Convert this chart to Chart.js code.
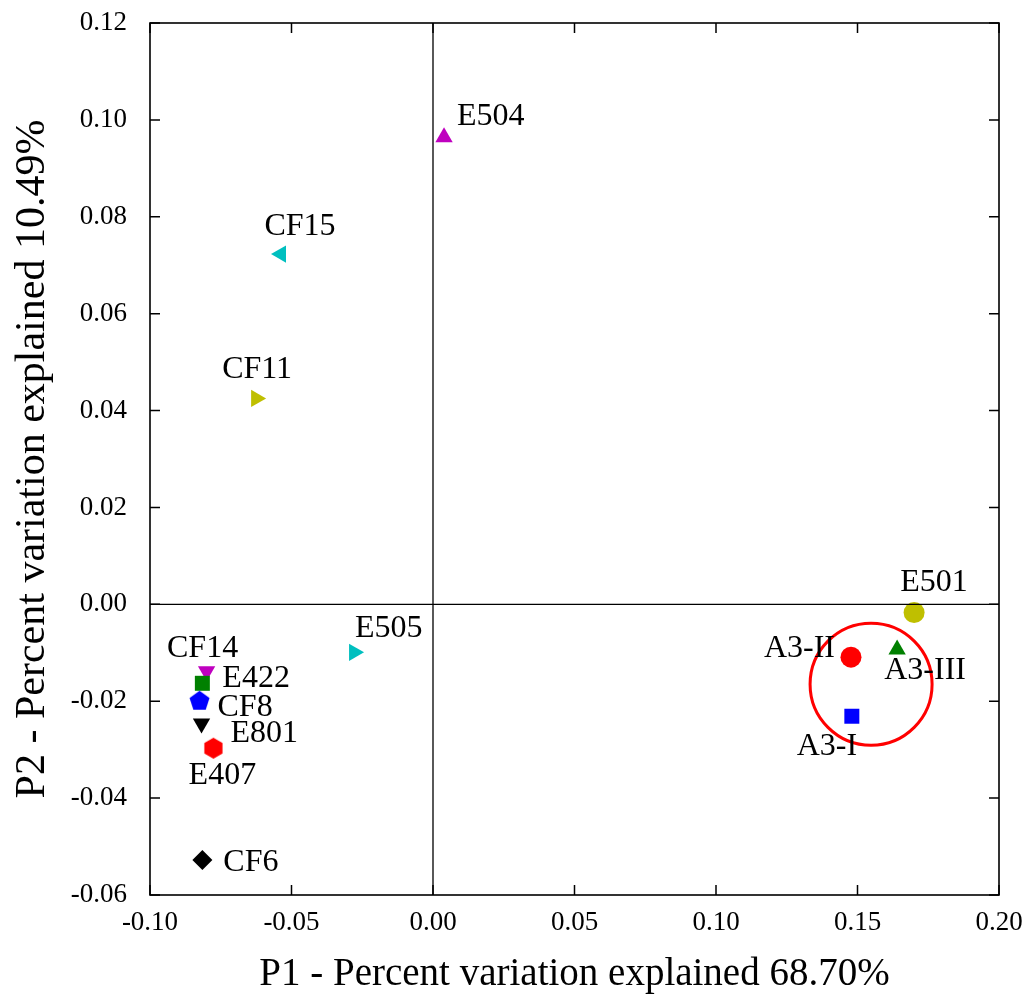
<!DOCTYPE html>
<html>
<head>
<meta charset="utf-8">
<script src="https://cdn.jsdelivr.net/npm/chart.js@4"></script>
<style>
  html, body { margin: 0; padding: 0; background: #fff; }
  #wrap { width: 1023px; height: 994px; }
</style>
</head>
<body>
<div id="wrap"><canvas id="chart"></canvas></div>
<script>
// sample names and PCA scores
var names = ["E504", "CF15", "CF11", "E505", "CF14", "E422", "CF8", "E801", "E407", "CF6", "E501", "A3-II", "A3-III", "A3-I"];
var p1 = [0.0039, -0.0537, -0.0625, -0.0279, -0.0800, -0.0815, -0.0825, -0.0818, -0.0776, -0.0815, 0.1700, 0.1477, 0.1640, 0.1480];
var p2 = [0.0964, 0.0723, 0.0425, -0.0099, -0.0138, -0.0163, -0.0200, -0.0246, -0.0297, -0.0528, -0.0017, -0.0109, -0.0093, -0.0231];

// group circle (A3 cluster)
var groupCenter = [0.1548, -0.0165];

var xTicks = [-0.10, -0.05, 0.00, 0.05, 0.10, 0.15, 0.20];
var yTicks = [-0.06, -0.04, -0.02, 0.00, 0.02, 0.04, 0.06, 0.08, 0.10, 0.12];

var xTitle = "P1 - Percent variation explained 68.70%";
var yTitle = "P2 - Percent variation explained 10.49%";

// marker style per sample
var colors = ["#bf00bf", "#00bfbf", "#bfbf00", "#00bfbf", "#bf00bf", "#008000", "#0000ff", "#000000", "#ff0000", "#000000", "#bfbf00", "#ff0000", "#008000", "#0000ff"];
var shapes = ["up", "left", "right", "right", "down", "square", "pentagon", "down", "hexagon", "diamond", "circle", "circle", "up", "square"];

// label placement: [align, dx, dy]
var labelPlace = [
  ["left", 13, -21], ["center", 19, -27], ["center", 1, -29], ["left", 1, -24],
  ["center", -4, -23], ["left", 20, -5], ["left", 18, 6], ["left", 29, 10],
  ["center", 9, 27], ["left", 21, 2], ["center", 20, -30], ["right", -16, -9],
  ["center", 28, 21], ["center", -25, 30]
];

const FONT = "'Liberation Serif', 'Times New Roman', serif";

function polyCanvas(n, r, color, startAngle) {
  const s = Math.ceil(r * 2 + 2);
  const c = document.createElement("canvas");
  c.width = s; c.height = s;
  const g = c.getContext("2d");
  g.fillStyle = color;
  g.beginPath();
  for (let i = 0; i < n; i++) {
    const a = startAngle + i * 2 * Math.PI / n;
    const px = s / 2 + r * Math.sin(a);
    const py = s / 2 - r * Math.cos(a);
    if (i === 0) g.moveTo(px, py); else g.lineTo(px, py);
  }
  g.closePath();
  g.fill();
  return c;
}

function styleFor(shape, color) {
  switch (shape) {
    case "up": return { style: "triangle", rot: 0, r: 10 };
    case "down": return { style: "triangle", rot: 180, r: 10 };
    case "left": return { style: "triangle", rot: 270, r: 10 };
    case "right": return { style: "triangle", rot: 90, r: 10 };
    case "square": return { style: "rect", rot: 0, r: 10.6 };
    case "diamond": return { style: "rectRot", rot: 0, r: 10 };
    case "circle": return { style: "circle", rot: 0, r: 10.5 };
    case "pentagon": return { style: polyCanvas(5, 10.5, color, 0), rot: 0, r: 10 };
    case "hexagon": return { style: polyCanvas(6, 10.5, color, 0), rot: 0, r: 10 };
  }
}

const markers = shapes.map((s, i) => styleFor(s, colors[i]));
const points = p1.map((x, i) => ({ x: x, y: p2[i] }));

const frameAndLabels = {
  id: "frameAndLabels",
  afterDatasetsDraw(chart) {
    const { ctx, chartArea: a, scales } = chart;
    const xs = scales.x, ys = scales.y;
    ctx.save();
    ctx.strokeStyle = "#000";
    ctx.lineWidth = 1.3;
    // zero lines
    const x0 = xs.getPixelForValue(0), y0 = ys.getPixelForValue(0);
    ctx.beginPath();
    ctx.moveTo(x0, a.top); ctx.lineTo(x0, a.bottom);
    ctx.moveTo(a.left, y0); ctx.lineTo(a.right, y0);
    ctx.stroke();
    // inward ticks on all sides
    ctx.lineWidth = 1.5;
    ctx.beginPath();
    xTicks.forEach(v => {
      const px = xs.getPixelForValue(v);
      ctx.moveTo(px, a.bottom); ctx.lineTo(px, a.bottom - 10);
      ctx.moveTo(px, a.top); ctx.lineTo(px, a.top + 10);
    });
    yTicks.forEach(v => {
      const py = ys.getPixelForValue(v);
      ctx.moveTo(a.left, py); ctx.lineTo(a.left + 10, py);
      ctx.moveTo(a.right, py); ctx.lineTo(a.right - 10, py);
    });
    ctx.stroke();
    ctx.lineWidth = 1.6;
    ctx.strokeRect(a.left, a.top, a.right - a.left, a.bottom - a.top);
    // sample labels
    ctx.fillStyle = "#000";
    ctx.font = "32px " + FONT;
    ctx.textBaseline = "middle";
    names.forEach((n, i) => {
      const lp = labelPlace[i];
      ctx.textAlign = lp[0];
      ctx.fillText(n, xs.getPixelForValue(p1[i]) + lp[1], ys.getPixelForValue(p2[i]) + lp[2]);
    });
    ctx.restore();
  }
};

function noEdgePadding(s) {
  s.paddingTop = 0; s.paddingBottom = 0;
  s.paddingLeft = 0; s.paddingRight = 0;
}

new Chart(document.getElementById("chart"), {
  type: "scatter",
  data: {
    datasets: [
      {
        label: "samples",
        data: points,
        pointStyle: markers.map(m => m.style),
        rotation: markers.map(m => m.rot),
        pointRadius: markers.map(m => m.r),
        pointHoverRadius: markers.map(m => m.r),
        pointBackgroundColor: colors,
        pointBorderColor: colors,
        pointBorderWidth: 0
      },
      {
        label: "group",
        data: [{ x: groupCenter[0], y: groupCenter[1] }],
        pointStyle: "circle",
        pointRadius: 61,
        pointBackgroundColor: "rgba(0,0,0,0)",
        pointBorderColor: "#ff0000",
        pointBorderWidth: 3
      }
    ]
  },
  options: {
    responsive: true,
    maintainAspectRatio: false,
    animation: false,
    events: [],
    layout: { autoPadding: false, padding: { top: 23, right: 24, left: 0, bottom: 0 } },
    plugins: {
      legend: { display: false },
      tooltip: { enabled: false }
    },
    scales: {
      x: {
        type: "linear",
        min: xTicks[0],
        max: xTicks[xTicks.length - 1],
        afterBuildTicks: s => { s.ticks = xTicks.map(v => ({ value: v })); },
        afterFit: s => { s.height = 99; noEdgePadding(s); },
        grid: { display: false },
        border: { display: false },
        ticks: {
          autoSkip: false,
          maxRotation: 0,
          padding: 4,
          color: "#000",
          font: { family: FONT, size: 27 },
          callback: v => (Math.abs(v) < 1e-9 ? 0 : v).toFixed(2)
        },
        title: {
          display: true,
          text: xTitle,
          color: "#000",
          font: { family: FONT, size: 39, lineHeight: 1 },
          padding: { top: 0, bottom: 0 }
        }
      },
      y: {
        type: "linear",
        min: yTicks[0],
        max: yTicks[yTicks.length - 1],
        afterBuildTicks: s => { s.ticks = yTicks.map(v => ({ value: v })); },
        afterFit: s => { s.width = 150; noEdgePadding(s); },
        grid: { display: false },
        border: { display: false },
        ticks: {
          autoSkip: false,
          padding: 15,
          color: "#000",
          font: { family: FONT, size: 27 },
          callback: v => (Math.abs(v) < 1e-9 ? 0 : v).toFixed(2)
        },
        title: {
          display: true,
          text: yTitle,
          color: "#000",
          font: { family: FONT, size: 42, lineHeight: 1 },
          padding: { top: 12, bottom: 0 }
        }
      }
    }
  },
  plugins: [frameAndLabels]
});
</script>
</body>
</html>
